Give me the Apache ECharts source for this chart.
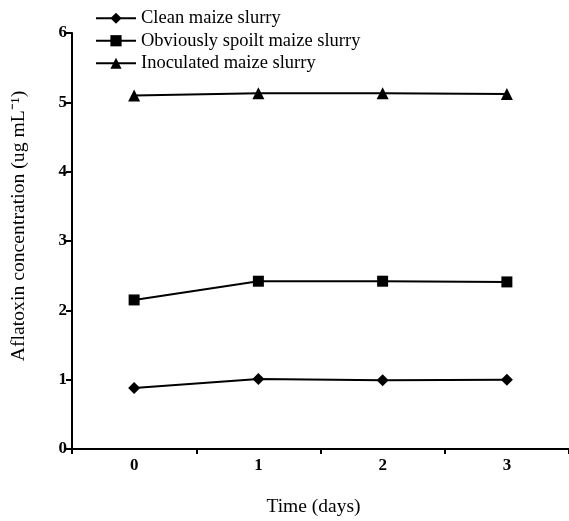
<!DOCTYPE html>
<html>
<head>
<meta charset="utf-8">
<script src="https://cdn.jsdelivr.net/npm/echarts@6/dist/echarts.min.js"></script>
<style>html,body{margin:0;padding:0;background:#fff}#c{width:569px;height:521px}</style>
</head>
<body>
<div id="c"></div>
<script>
const categories = ['0', '1', '2', '3'];
const cleanSlurry = [0.88, 1.01, 0.99, 1.0];
const spoiltSlurry = [2.15, 2.42, 2.42, 2.41];
const inoculatedSlurry = [5.1, 5.13, 5.13, 5.12];
const seriesNames = ['Clean maize slurry', 'Obviously spoilt maize slurry', 'Inoculated maize slurry'];

const font = 'Liberation Serif';
const chart = echarts.init(document.getElementById('c'));
function mk(name, data, symbol, size) {
  return {
    name, type: 'line', data, symbol, symbolSize: size,
    lineStyle: { color: '#000', width: 2 },
    itemStyle: { color: '#000' },
    animation: false
  };
}
chart.setOption({
  backgroundColor: '#fff',
  animation: false,
  textStyle: { fontFamily: font, color: '#000' },
  legend: {
    orient: 'vertical', left: 90, top: 7, itemGap: 0, padding: [0, 5],
    itemWidth: 40, itemHeight: 14,
    textStyle: { fontFamily: font, fontSize: 18.5, lineHeight: 22.5, color: '#000' },
    data: seriesNames
  },
  grid: { left: 72, right: 0, top: 33, bottom: 72, outerBoundsMode: 'none', containLabel: false },
  xAxis: {
    type: 'category', data: categories, boundaryGap: true,
    name: 'Time (days)', nameLocation: 'middle', nameGap: 48,
    nameTextStyle: { fontFamily: font, fontSize: 19.5, color: '#000', padding: [0, 14, 0, 0] },
    axisLine: { lineStyle: { color: '#000', width: 2 } },
    axisTick: { show: true, length: 5, lineStyle: { color: '#000', width: 2 } },
    axisLabel: { fontFamily: font, fontSize: 17, fontWeight: 'bold', color: '#000', margin: 8 },
    splitLine: { show: false }
  },
  yAxis: {
    type: 'value', min: 0, max: 6, interval: 1,
    name: 'Aflatoxin concentration (ug mL\u207B\u00B9)', nameLocation: 'middle', nameGap: 43, nameRotate: 90,
    nameTextStyle: { fontFamily: font, fontSize: 19.7, color: '#000', padding: [0, 0, 0, 30] },
    axisLine: { show: true, lineStyle: { color: '#000', width: 2 } },
    axisTick: { show: true, length: 6, lineStyle: { color: '#000', width: 2 } },
    axisLabel: { fontFamily: font, fontSize: 17, fontWeight: 'bold', color: '#000', margin: 5 },
    splitLine: { show: false }
  },
  series: [
    mk(seriesNames[0], cleanSlurry, 'diamond', 12),
    mk(seriesNames[1], spoiltSlurry, 'rect', 11),
    mk(seriesNames[2], inoculatedSlurry, 'triangle', 12)
  ]
});
</script>
</body>
</html>
